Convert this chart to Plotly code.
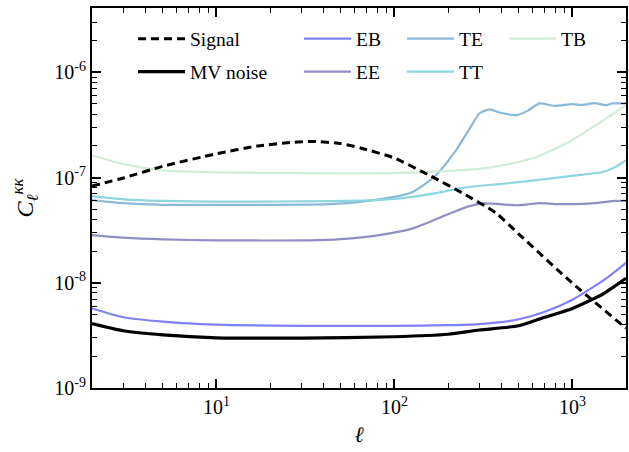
import plotly.graph_objects as go
import numpy as np

# ---------------- data ----------------
ell_signal = [2, 3, 5, 10, 17, 26, 35, 50, 66, 100, 157, 242, 372, 500, 1000, 2000]
signal = [8.3e-8, 9.9e-8, 1.28e-7, 1.68e-7, 1.99e-7, 2.15e-7, 2.2e-7, 2.1e-7,
          1.89e-7, 1.53e-7, 1.05e-7, 7.1e-8, 4.6e-8, 2.9e-8, 9.9e-9, 3.7e-9]

ell_mv = [2, 3, 5, 10, 30, 100, 200, 300, 500, 700, 1000, 1500, 2000]
mv_noise = [4.1e-9, 3.5e-9, 3.2e-9, 3.0e-9, 2.98e-9, 3.07e-9, 3.24e-9, 3.56e-9,
            3.9e-9, 4.7e-9, 5.7e-9, 7.9e-9, 1.1e-8]

ell_eb = [2, 3, 5, 10, 30, 100, 200, 300, 500, 700, 1000, 1500, 2000]
eb = [5.7e-9, 4.7e-9, 4.27e-9, 4.0e-9, 3.9e-9, 3.9e-9, 3.95e-9, 4.05e-9,
      4.5e-9, 5.3e-9, 6.9e-9, 1.06e-8, 1.55e-8]

ell_ee = [2, 3, 5, 10, 33, 50, 82, 127, 195, 264, 313, 389, 483, 560, 653,
          800, 1047, 1400, 1745, 2000]
ee = [2.84e-8, 2.68e-8, 2.58e-8, 2.53e-8, 2.53e-8, 2.6e-8, 2.84e-8, 3.29e-8,
      4.4e-8, 5.35e-8, 5.67e-8, 5.6e-8, 5.45e-8, 5.55e-8, 5.7e-8, 5.6e-8,
      5.6e-8, 5.75e-8, 6.0e-8, 6.0e-8]

ell_te = [2, 3, 5, 10, 43, 82, 127, 171, 222, 264, 300, 342, 389, 483, 560,
          653, 793, 1000, 1143, 1330, 1545, 1683, 2000]
te = [6.1e-8, 5.7e-8, 5.5e-8, 5.5e-8, 5.58e-8, 6.2e-8, 7.3e-8, 1.05e-7,
      1.82e-7, 2.9e-7, 4.06e-7, 4.45e-7, 4.15e-7, 3.92e-7, 4.3e-7, 5.06e-7,
      4.8e-7, 4.98e-7, 4.9e-7, 5.09e-7, 4.88e-7, 5.06e-7, 5.06e-7]

ell_tt = [2, 3, 5, 10, 43, 79, 127, 187, 232, 313, 389, 483, 681, 1047, 1479,
          1745, 2000]
tt = [6.65e-8, 6.2e-8, 6.0e-8, 5.9e-8, 5.97e-8, 6.1e-8, 6.56e-8, 7.3e-8,
      7.9e-8, 8.4e-8, 8.65e-8, 9.0e-8, 9.6e-8, 1.05e-7, 1.13e-7, 1.26e-7, 1.46e-7]

ell_tb = [2, 3, 5, 10, 30, 100, 157, 287, 400, 625, 961, 1358, 2000]
tb = [1.63e-7, 1.34e-7, 1.17e-7, 1.12e-7, 1.1e-7, 1.1e-7, 1.13e-7, 1.2e-7,
      1.3e-7, 1.57e-7, 2.19e-7, 3.15e-7, 4.86e-7]

x_tick_vals = [10, 100, 1000]
x_tick_text = ["10<sup>1</sup>", "10<sup>2</sup>", "10<sup>3</sup>"]
y_tick_vals = [1e-9, 1e-8, 1e-7, 1e-6]
y_tick_text = ["10<sup>-9</sup>", "10<sup>-8</sup>", "10<sup>-7</sup>", "10<sup>-6</sup>"]

# ---------------- figure ----------------
FONT = "Liberation Serif"
W, H = 629, 452
ML, MR, MT, MB = 92, 3, 8, 64
PW, PH = W - ML - MR, H - MT - MB

def px(x):
    return (x - ML) / PW

def py(y):
    return (H - MB - y) / PH

fig = go.Figure()

series = [
    ("EB", ell_eb, eb, "#8080fa", 2.2, "solid", "legend3", 304, 39),
    ("EE", ell_ee, ee, "#8f8fc4", 2.2, "solid", "legend4", 304, 72),
    ("TE", ell_te, te, "#8cb8d8", 2.2, "solid", "legend5", 407, 39),
    ("TT", ell_tt, tt, "#8ed6de", 2.2, "solid", "legend6", 407, 72),
    ("TB", ell_tb, tb, "#d2ebd7", 2.2, "solid", "legend7", 509, 39),
    ("MV noise", ell_mv, mv_noise, "black", 3.2, "solid", "legend2", 138, 72),
    ("Signal", ell_signal, signal, "black", 3.0, "8px,5px", "legend", 138, 39),
]

legend_layout = {}
for name, xs, ys, col, lw, dash, leg, lx, ly in series:
    fig.add_trace(go.Scatter(
        x=xs, y=ys, mode="lines", name=name, legend=leg,
        line=dict(color=col, width=lw, dash=dash, shape="spline", smoothing=0.6),
    ))
    legend_layout[leg] = dict(
        x=px(lx - 5), y=py(ly), xanchor="left", yanchor="middle",
        bgcolor="rgba(0,0,0,0)", borderwidth=0,
        font=dict(family=FONT, size=19.5, color="black"),
        itemwidth=47,
    )

axis_common = dict(
    type="log", showgrid=False, zeroline=False, automargin=False,
    showline=True, linecolor="black", linewidth=2, mirror="ticks",
    ticks="inside", ticklen=9, tickwidth=1.5, tickcolor="black",
    tickfont=dict(family=FONT, size=20, color="black"),
)

minor_x = [m * 10 ** k for k in range(0, 4) for m in range(2, 10)]
minor_y = [m * 10 ** k for k in range(-10, -5) for m in range(2, 10)]

fig.update_xaxes(
    **axis_common,
    range=[np.log10(2), np.log10(2000)],
    tickmode="array", tickvals=x_tick_vals, ticktext=x_tick_text,
    minor=dict(ticks="inside", ticklen=5, tickwidth=1, tickcolor="black",
               tickmode="array", tickvals=minor_x, showgrid=False),
    title=dict(text="<i>ℓ</i>", font=dict(family=FONT, size=22, color="black"),
               standoff=10),
)
fig.update_yaxes(
    **axis_common,
    range=[-9, -5.389],
    tickmode="array", tickvals=y_tick_vals, ticktext=y_tick_text,
    minor=dict(ticks="inside", ticklen=5, tickwidth=1, tickcolor="black",
               tickmode="array", tickvals=minor_y, showgrid=False),
    title=dict(text="<i>C</i><sub><i>ℓ</i></sub><sup><i>κκ</i></sup>",
               font=dict(family=FONT, size=24, color="black"), standoff=14),
)

fig.update_layout(
    width=W, height=H,
    margin=dict(l=ML, r=MR, t=MT, b=MB, pad=0),
    plot_bgcolor="white", paper_bgcolor="white",
    font=dict(family=FONT, color="black"),
    showlegend=True,
    **legend_layout,
)

fig.write_html(
    "out.html",
    config={"displayModeBar": False},
    post_script="document.body.style.margin='0';document.body.style.overflow='hidden';",
)
